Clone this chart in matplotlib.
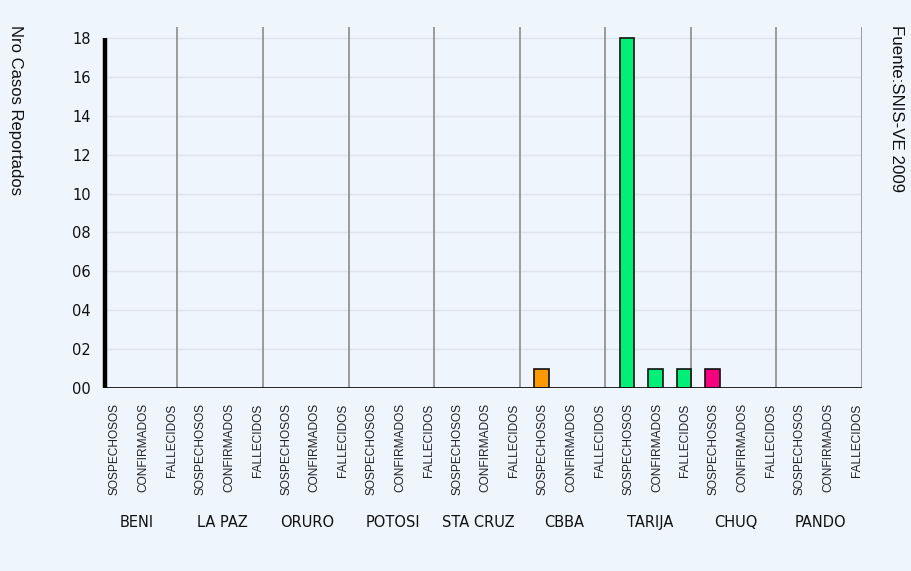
import matplotlib
matplotlib.use("Agg")
import matplotlib.pyplot as plt
import matplotlib.transforms as mtransforms

departments = ["BENI", "LA PAZ", "ORURO", "POTOSI", "STA CRUZ", "CBBA", "TARIJA", "CHUQ", "PANDO"]
case_types = ["SOSPECHOSOS", "CONFIRMADOS", "FALLECIDOS"]
values = [
    [0, 0, 0],   # BENI
    [0, 0, 0],   # LA PAZ
    [0, 0, 0],   # ORURO
    [0, 0, 0],   # POTOSI
    [0, 0, 0],   # STA CRUZ
    [1, 0, 0],   # CBBA
    [18, 1, 1],  # TARIJA
    [1, 0, 0],   # CHUQ
    [0, 0, 0],   # PANDO
]
dept_colors = ["#3366FF", "#CC3333", "#9966CC", "#996633", "#33CCCC",
               "#FF9900", "#00F077", "#F5007F", "#66CC33"]
yticks = [0, 2, 4, 6, 8, 10, 12, 14, 16, 18]
ytick_labels = ["00", "02", "04", "06", "08", "10", "12", "14", "16", "18"]

bg = "#EEF5FD"
W, H = 911, 571
fig = plt.figure(figsize=(W / 100, H / 100), dpi=100, facecolor=bg)
ax = fig.add_axes([105 / W, 1 - 388 / H, (862 - 105) / W, (388 - 27) / H], facecolor=bg)

n = len(case_types)
xs, hs, cs, labels = [], [], [], []
for g, dep in enumerate(departments):
    for k, ct in enumerate(case_types):
        xs.append(g * n + k)
        hs.append(values[g][k])
        cs.append(dept_colors[g])
        labels.append(ct)

ymax = 18
ax.set_ylim(0, ymax + 11 * ymax / 350)
ax.set_xlim(-0.35, len(xs) - 0.81)

# grid
for t in yticks[1:]:
    ax.axhline(t, color="#DEE4EA", lw=1, zorder=0)
for g in range(1, len(departments) + 1):
    ax.axvline(g * n - 0.81, color="#8C8C8C", lw=1.2, zorder=1)

bars_x = [x for x, h in zip(xs, hs) if h > 0]
bars_h = [h for h in hs if h > 0]
bars_c = [c for c, h in zip(cs, hs) if h > 0]
ax.bar([x - 0.05 for x in bars_x], bars_h, width=0.5, color=bars_c,
       edgecolor="#111111", lw=1.2, zorder=3)

for s in ax.spines.values():
    s.set_visible(False)
ax.axhline(0, color="#111111", lw=2, zorder=4)
ax.plot([-0.35, -0.35], [0, ymax], color="#000000", lw=3.2, zorder=5,
        solid_capstyle="butt", clip_on=False)

ax.set_yticks(yticks)
ax.set_yticklabels(ytick_labels, fontsize=10.5, color="#111111")
ax.tick_params(axis="y", length=0, pad=10)
ax.set_xticks(xs)
ax.set_xticklabels(labels, rotation=90, fontsize=8.6, family="Liberation Sans",
                   color="#222222", va="top")
ax.tick_params(axis="x", length=0, pad=11)

tr = mtransforms.blended_transform_factory(ax.transData, fig.transFigure)
for g, dep in enumerate(departments):
    ax.text(g * n + 0.75, 1 - 527 / H, dep, transform=tr,
            ha="center", va="baseline", fontsize=10.5, color="#111111")

fig.text(15 / W, 1 - 25 / H, "Nro Casos Reportados", rotation=-90, ha="center", va="top",
         fontsize=12, family="Liberation Sans", color="#111111")
fig.text(896 / W, 1 - 25 / H, "Fuente:SNIS-VE 2009", rotation=-90, ha="center", va="top",
         fontsize=12.2, family="Liberation Sans", color="#111111")

fig.savefig("out.png", dpi=100, facecolor=bg)
